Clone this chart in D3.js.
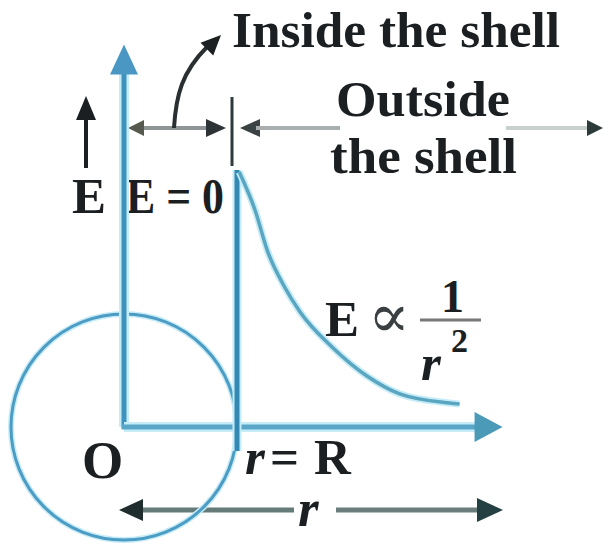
<!DOCTYPE html>
<html>
<head>
<meta charset="utf-8">
<script src="https://cdn.jsdelivr.net/npm/d3@7"></script>
<style>
  body { margin: 0; background: #fff; }
</style>
</head>
<body>
<script>
// field of a charged shell, E versus r (r in units of R, E in units of E(R))
const rValues = [1.02, 1.16, 1.27, 1.42, 1.56, 1.85, 2.15, 2.44, 2.88, 2.97];
const eValues = [1.0, 0.85, 0.69, 0.55, 0.45, 0.31, 0.2, 0.13, 0.094, 0.09];
const rMax = 3.35;
const eMax = 1.5;
const shellRadius = 1;

const width = 606;
const height = 546;

const x = d3.scaleLinear().domain([0, 1]).range([124, 237]);
const y = d3.scaleLinear().domain([0, 1]).range([427, 172]);

const svg = d3.select('body').append('svg')
    .attr('width', width)
    .attr('height', height)
    .style('font-family', '"Liberation Serif", "DejaVu Serif", serif')
    .style('font-weight', 'bold');

const blue = '#3f92bd';
const halo = '#c6ecf8';
const ink = '#1c1f22';

// triangle arrow head, tip at (tx, ty), pointing along angle a
function head(g, tx, ty, a, len, w, color) {
    const c = Math.cos(a), s = Math.sin(a);
    const bx = tx - c * len, by = ty - s * len;
    g.append('path')
        .attr('d', `M${tx},${ty}L${bx - s * w / 2},${by + c * w / 2}L${bx + s * w / 2},${by - c * w / 2}Z`)
        .attr('fill', color);
}

function line(g, x1, y1, x2, y2, color, sw) {
    g.append('line')
        .attr('x1', x1).attr('y1', y1)
        .attr('x2', x2).attr('y2', y2)
        .attr('stroke', color)
        .attr('stroke-width', sw);
}

// ---- text ----
const gText = svg.append('g').attr('fill', ink);

gText.append('text')
    .attr('x', 232).attr('y', 47)
    .attr('font-size', 51)
    .attr('textLength', 328).attr('lengthAdjust', 'spacingAndGlyphs')
    .text('Inside the shell');

gText.append('text')
    .attr('x', 336).attr('y', 116)
    .attr('font-size', 51)
    .attr('textLength', 174).attr('lengthAdjust', 'spacingAndGlyphs')
    .text('Outside');

gText.append('text')
    .attr('x', 330).attr('y', 173)
    .attr('font-size', 51)
    .attr('textLength', 187).attr('lengthAdjust', 'spacingAndGlyphs')
    .text('the shell');

gText.append('text')
    .attr('x', 72).attr('y', 213)
    .attr('font-size', 51)
    .text('E');

gText.append('text')
    .attr('x', 126).attr('y', 213)
    .attr('font-size', 51)
    .attr('textLength', 98).attr('lengthAdjust', 'spacingAndGlyphs')
    .text('E = 0');

gText.append('text')
    .attr('x', 325).attr('y', 336)
    .attr('font-size', 51)
    .text('E');

gText.append('text')
    .attr('x', 368).attr('y', 337)
    .attr('font-size', 62)
    .attr('font-weight', 'normal')
    .attr('fill', '#3a3f42')
    .text('\u221D');

gText.append('text')
    .attr('x', 441).attr('y', 312)
    .attr('font-size', 46)
    .text('1');

gText.append('text')
    .attr('x', 421).attr('y', 380)
    .attr('font-size', 51)
    .attr('font-style', 'italic')
    .text('r');

gText.append('text')
    .attr('x', 451).attr('y', 352)
    .attr('font-size', 34)
    .text('2');

gText.append('text')
    .attr('x', 82).attr('y', 478)
    .attr('font-size', 53)
    .text('O');

gText.append('text')
    .attr('x', 245).attr('y', 474)
    .attr('font-size', 51)
    .attr('font-style', 'italic')
    .text('r');

gText.append('text')
    .attr('x', 270).attr('y', 474)
    .attr('font-size', 51)
    .text('=');

gText.append('text')
    .attr('x', 314).attr('y', 474)
    .attr('font-size', 51)
    .text('R');

gText.append('text')
    .attr('x', 298).attr('y', 526)
    .attr('font-size', 53)
    .attr('font-style', 'italic')
    .text('r');

// fraction bar of 1/r²
line(svg, 420, 320, 481, 320, '#777', 3);

// ---- black annotation arrows ----
const gAnn = svg.append('g');

// upward E arrow
line(gAnn, 86, 118, 86, 168, ink, 4);
head(gAnn, 86, 96, -Math.PI / 2, 24, 20, ink);

// inside double arrow
line(gAnn, 140, 128, 212, 128, '#8f9596', 4);
head(gAnn, 128, 128, Math.PI, 16, 16, '#55594e');
head(gAnn, 226, 128, 0, 20, 18, '#2e3436');

// boundary tick
line(gAnn, 232, 97, 232, 166, '#2f3a3c', 3);

// outside arrow
head(gAnn, 240, 128, Math.PI, 20, 18, '#3a4244');
line(gAnn, 256, 128, 340, 128, '#a9afb0', 4);
line(gAnn, 506, 128, 588, 128, '#c7cfcf', 4);
head(gAnn, 603, 128, 0, 16, 16, '#2c3a3a');

// curved pointer to "Inside the shell"
gAnn.append('path')
    .attr('d', 'M174,128 C176,95 182,72 207,47')
    .attr('fill', 'none')
    .attr('stroke', '#2a2f31')
    .attr('stroke-width', 4);
head(gAnn, 221, 35, -Math.PI / 4, 20, 18, '#1c2022');

// bottom double arrow for r
line(gAnn, 138, 510, 294, 510, '#657b79', 5);
head(gAnn, 119, 510, Math.PI, 24, 22, '#1f2d2e');
line(gAnn, 336, 510, 482, 510, '#6a7f7d', 5);
head(gAnn, 503, 510, 0, 26, 24, '#244042');

// ---- blue figure ----
const gFig = svg.append('g');

// shell
gFig.append('circle')
    .attr('cx', x(0)).attr('cy', y(0))
    .attr('r', x(shellRadius) - x(0))
    .attr('fill', 'none')
    .attr('stroke', halo)
    .attr('stroke-width', 6);
gFig.append('circle')
    .attr('cx', x(0)).attr('cy', y(0))
    .attr('r', x(shellRadius) - x(0))
    .attr('fill', 'none')
    .attr('stroke', '#4d9cc4')
    .attr('stroke-width', 3);

// axes
line(gFig, x(0), y(0), x(0), y(eMax) + 20, halo, 10);
line(gFig, x(0), y(0) + 2, x(0), y(eMax) + 20, blue, 5);
head(gFig, x(0), y(eMax), -Math.PI / 2, 30, 28, '#4a97c4');

line(gFig, x(0), y(0), x(rMax) - 20, y(0), halo, 10);
line(gFig, x(0) - 2, y(0), x(rMax) - 20, y(0), '#5aa6c8', 5);
head(gFig, x(rMax), y(0), 0, 28, 30, '#4a9ab8');

// r = R line
line(gFig, x(shellRadius), y(1) - 2, x(shellRadius), y(0) + 24, halo, 9);
line(gFig, x(shellRadius), y(1) - 2, x(shellRadius), y(0) + 24, '#3489b4', 5);

// E curve outside
const curve = d3.line()
    .x((d, i) => x(rValues[i]))
    .y(d => y(d))
    .curve(d3.curveMonotoneX);

gFig.append('path')
    .attr('d', curve(eValues))
    .attr('fill', 'none')
    .attr('stroke', halo)
    .attr('stroke-width', 7);
gFig.append('path')
    .attr('d', curve(eValues))
    .attr('fill', 'none')
    .attr('stroke', '#5aa5bf')
    .attr('stroke-width', 3.5);
</script>
</body>
</html>
